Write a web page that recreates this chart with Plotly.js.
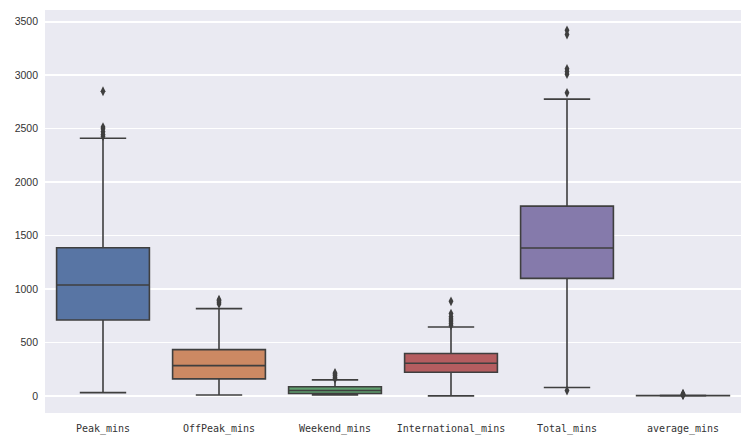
<!DOCTYPE html>
<html>
<head>
<meta charset="utf-8">
<script src="https://cdn.plot.ly/plotly-3.0.1.min.js"></script>
<style>
  html, body { margin: 0; padding: 0; background: #ffffff; }
  #chart { width: 750px; height: 448px; }
</style>
</head>
<body>
<div id="chart"></div>
<script>
// Call-minute columns summarised as box plots (quartiles, whisker ends, outliers)
const categories = ["Peak_mins", "OffPeak_mins", "Weekend_mins", "International_mins", "Total_mins", "average_mins"];
const lowerWhisker = [31, 9, 8, 0, 78, 0.5];
const q1Values     = [710, 159, 22, 221, 1099, 2.5];
const medianValues = [1037, 283, 50, 306, 1383, 3.2];
const q3Values     = [1386, 433, 85, 396, 1775, 4.2];
const upperWhisker = [2410, 816, 150, 645, 2776, 6.5];
const outliers = [
  [2430, 2445, 2470, 2500, 2515, 2850],
  [860, 875, 890, 900],
  [160, 175, 190, 205, 215],
  [660, 680, 700, 720, 740, 770, 885],
  [50, 2835, 3010, 3035, 3060, 3380, 3420],
  [7, 9, 12, 16, 21]
];
const boxColors = ["#5875a4", "#cc8963", "#5f9e6e", "#b55d60", "#857aab", "#8d7866"];
const yTicks = [0, 500, 1000, 1500, 2000, 2500, 3000, 3500];

const edge = "#3f3f3f";
const traces = [];

categories.forEach((cat, i) => {
  traces.push({
    type: "box",
    name: cat,
    x: [cat],
    q1: [q1Values[i]],
    median: [medianValues[i]],
    q3: [q3Values[i]],
    lowerfence: [lowerWhisker[i]],
    upperfence: [upperWhisker[i]],
    width: 0.8,
    whiskerwidth: 0.5,
    fillcolor: boxColors[i],
    line: { color: edge, width: 1.6 },
    boxpoints: false,
    hoverinfo: "y",
    showlegend: false
  });
  traces.push({
    type: "scatter",
    mode: "markers",
    x: outliers[i].map(() => cat),
    y: outliers[i],
    marker: { symbol: "diamond-tall", size: 7, color: edge },
    hoverinfo: "y",
    showlegend: false
  });
});

const layout = {
  width: 750,
  height: 448,
  margin: { l: 45, r: 9, t: 10, b: 35 },
  paper_bgcolor: "#ffffff",
  plot_bgcolor: "#eaeaf2",
  boxmode: "overlay",
  showlegend: false,
  xaxis: {
    type: "category",
    categoryorder: "array",
    categoryarray: categories,
    range: [-0.5, 5.5],
    showgrid: false,
    zeroline: false,
    showline: false,
    ticks: "",
    ticklabelstandoff: 8,
    tickfont: { family: "DejaVu Sans Mono, Liberation Mono, monospace", size: 10, color: "#333333" }
  },
  yaxis: {
    range: [-160, 3610],
    tickvals: yTicks,
    ticktext: yTicks.map(String),
    showgrid: true,
    gridcolor: "#ffffff",
    gridwidth: 1.5,
    zeroline: false,
    showline: false,
    ticks: "",
    ticklabelstandoff: 6,
    tickfont: { family: "Liberation Sans, Arial, sans-serif", size: 10.5, color: "#333333" }
  }
};

Plotly.newPlot("chart", traces, layout, { displayModeBar: false, staticPlot: true });
</script>
</body>
</html>
